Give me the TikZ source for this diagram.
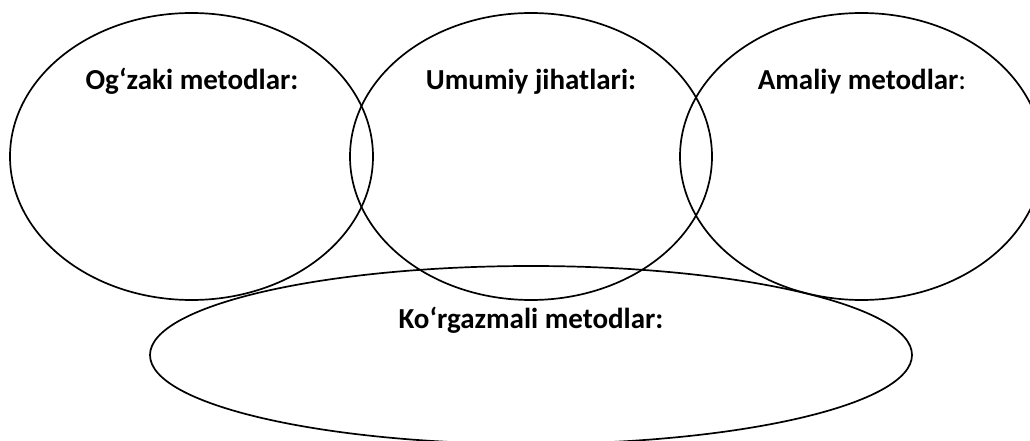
\documentclass[tikz,border=0pt]{standalone}
\usepackage{fontspec}
\setmainfont{Carlito}
\usetikzlibrary{shapes.geometric}

\begin{document}
\begin{tikzpicture}[x=1pt,y=-1pt,
    oval/.style={shape=ellipse,draw=black,line width=1.7pt,inner sep=0pt},
    title/.style={anchor=base,font=\fontsize{29}{34}\selectfont\bfseries}]
        \useasboundingbox (0,0) rectangle (1030,441);
        \clip (0,0) rectangle (1030,441);

        % the four ovals
        \node[oval,minimum width=363,minimum height=287] (ogzaki) at (191.5,156.5) {};
        \node[oval,minimum width=362,minimum height=287] (umumiy) at (531,156.5) {};
        \node[oval,minimum width=363,minimum height=287] (amaliy) at (861.5,156.5) {};
        \node[oval,minimum width=762,minimum height=178] (korgazmali) at (531,355) {};

        % titles
        \node[title] (t1) at (192,90) {Og‘zaki metodlar:};
        \node[title] (t2) at (531,90) {Umumiy jihatlari:};
        \node[title] (t3) at (862,90) {Amaliy metodlar\mdseries:};
        \node[title] (t4) at (531,328) {Ko‘rgazmali metodlar:};
    \end{tikzpicture}
\end{document}
